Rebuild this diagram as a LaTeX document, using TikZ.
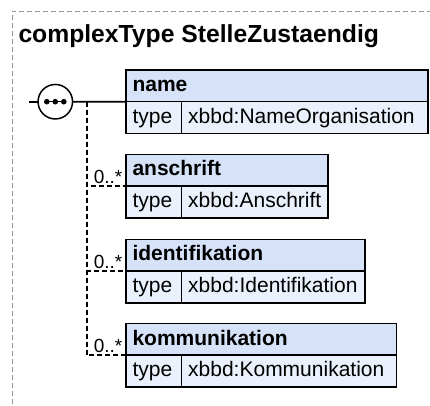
\documentclass[tikz,border=0pt]{standalone}
\usepackage{fontspec}
\setmainfont{Liberation Sans}
\definecolor{hdrfill}{RGB}{213,226,248}
\definecolor{rowfill}{RGB}{234,241,252}
\definecolor{framegray}{RGB}{150,150,150}
\tikzset{
  boxline/.style={draw=black, line width=1.5pt, outer sep=0pt, inner ysep=0pt, inner xsep=6.5pt, align=left, anchor=north west, text height=15.6pt, text depth=4.2pt},
  hdr/.style={boxline, fill=hdrfill, minimum height=31.7pt, font=\fontsize{21}{24}\selectfont\bfseries},
  rowcell/.style={boxline, fill=rowfill, minimum height=32pt, font=\fontsize{21}{24}\selectfont},
  mainline/.style={line width=1.6pt, black},
  optline/.style={line width=1.5pt, black, dash pattern=on 5pt off 3pt},
  card/.style={anchor=base east, inner sep=0pt, font=\fontsize{19}{20}\selectfont, xshift=-3.5pt, yshift=2.7pt},
  frame/.style={draw=framegray, line width=1pt, dash pattern=on 5pt off 3pt}
}
\begin{document}
\begin{tikzpicture}[x=1pt,y=-1pt]
\useasboundingbox (0,0) rectangle (430,405);
% outer frame
\draw[frame] (440,11) -- (12,11) -- (12,415);
% title
\node[anchor=base west, inner sep=0pt, font=\fontsize{24.7}{28}\selectfont\bfseries] (title) at (18.3,42.5) {complexType StelleZustaendig};
% sequence compositor
\node[circle, draw=black, fill=white, line width=1.5pt, minimum size=34.5pt, inner sep=0pt, outer sep=0pt] (seq) at (55.3,101.7) {};
\draw[line width=1.3pt] (44.5,101.7) -- (66,101.7);
\fill (46.8,101.7) circle (2.8) (55.3,101.7) circle (2.8) (63.8,101.7) circle (2.8);
\coordinate (in) at (29,101.7);
\coordinate (j) at (86.8,101.7);
% name
\node[hdr, minimum width=302pt, text width=289pt] (nameH) at (126,70) {name};
\node[rowcell, minimum width=55.7pt, text width=42.7pt] (nameT) at (nameH.south west) {type};
\node[rowcell, minimum width=246.3pt, text width=233.3pt] (nameV) at (nameT.north east) {xbbd:NameOrganisation};
% anschrift
\node[hdr, minimum width=202pt, text width=189pt] (anH) at (126,154.3) {anschrift};
\node[rowcell, minimum width=55.7pt, text width=42.7pt] (anT) at (anH.south west) {type};
\node[rowcell, minimum width=146.3pt, text width=133.3pt] (anV) at (anT.north east) {xbbd:Anschrift};
% identifikation
\node[hdr, minimum width=239pt, text width=226pt] (idH) at (126,239.3) {identifikation};
\node[rowcell, minimum width=55.7pt, text width=42.7pt] (idT) at (idH.south west) {type};
\node[rowcell, minimum width=183.3pt, text width=170.3pt] (idV) at (idT.north east) {xbbd:Identifikation};
% kommunikation
\node[hdr, minimum width=270.7pt, text width=257.7pt] (koH) at (126,323.5) {kommunikation};
\node[rowcell, minimum width=55.7pt, text width=42.7pt] (koT) at (koH.south west) {type};
\node[rowcell, minimum width=215pt, text width=202pt] (koV) at (koT.north east) {xbbd:Kommunikation};
% connectors
\draw[mainline] (in) -- (seq.west);
\draw[mainline] (seq.east) -- (nameH.south west);
\draw[optline] (j) |- (anH.south west);
\draw[optline] (j) |- (idH.south west);
\draw[optline] (j) |- (koH.south west);
\node[card] (anC) at (anH.south west) {0..*};
\node[card] (idC) at (idH.south west) {0..*};
\node[card] (koC) at (koH.south west) {0..*};
\end{tikzpicture}
\end{document}
